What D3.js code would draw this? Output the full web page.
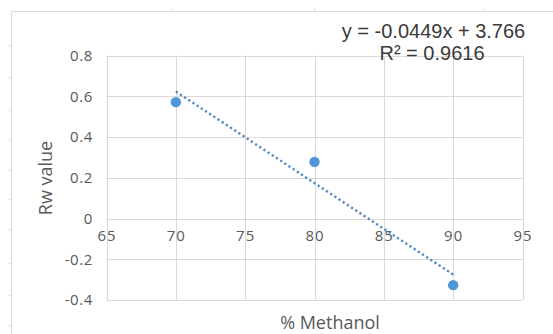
<!DOCTYPE html>
<html>
<head>
<meta charset="utf-8">
<script src="https://cdn.jsdelivr.net/npm/d3@7/dist/d3.min.js"></script>
<style>
  html, body { margin: 0; padding: 0; background: #ffffff; }
  svg { display: block; }
</style>
</head>
<body>
<svg id="chart" width="553" height="334"></svg>
<script>
// Measured Rw values at each methanol percentage
const methanol = [70, 80, 90];
const rwValues = [0.571, 0.278, -0.327];

// Axis tick values
const xTicks = [65, 70, 75, 80, 85, 90, 95];
const yTicks = [-0.4, -0.2, 0, 0.2, 0.4, 0.6, 0.8];

const svg = d3.select("#chart");
const W = 553, H = 334;

const x = d3.scaleLinear().domain([65, 95]).range([106.5, 522.5]);
const y = d3.scaleLinear().domain([-0.4, 0.8]).range([300, 55.5]);

const gridColor = "#d9d9d9";
const labelColor = "#595959";

// Chart frame (top and left edge of the chart object)
svg.append("path")
  .attr("d", `M11.5,${H} V11.5 H${W}`)
  .attr("fill", "none").attr("stroke", "#dcdcdc").attr("stroke-width", 1);

// Faint cell boundary marks along the frame
[171, 314, 484].forEach(px => {
  svg.append("line").attr("x1", px + 0.5).attr("x2", px + 0.5).attr("y1", 8).attr("y2", 11)
    .attr("stroke", "#e2e2e2");
});
[45, 77, 110, 139, 170, 199, 229, 263, 295, 325].forEach(py => {
  svg.append("line").attr("x1", 8).attr("x2", 11).attr("y1", py + 0.5).attr("y2", py + 0.5)
    .attr("stroke", "#e6e6e6");
});

// Gridlines
const grid = svg.append("g");
grid.selectAll("line.h").data(yTicks).join("line")
  .attr("x1", x(65)).attr("x2", x(95))
  .attr("y1", d => Math.round(y(d)) + 0.5).attr("y2", d => Math.round(y(d)) + 0.5)
  .attr("stroke", gridColor).attr("stroke-width", 1);
grid.selectAll("line.v").data(xTicks).join("line")
  .attr("y1", y(0.8)).attr("y2", y(-0.4))
  .attr("x1", d => Math.round(x(d)) + 0.5).attr("x2", d => Math.round(x(d)) + 0.5)
  .attr("stroke", gridColor).attr("stroke-width", 1);

// Y axis labels (plain hyphen for negatives)
const fmtY = d => d === 0 ? "0" : d3.format(".1f")(d).replace("\u2212", "-");
const yAxis = d3.axisLeft(y).tickValues(yTicks).tickSize(0).tickPadding(0).tickFormat(fmtY);
const gy = svg.append("g").attr("transform", "translate(93,0)").call(yAxis);
gy.select(".domain").remove();
gy.selectAll("text")
  .attr("fill", labelColor)
  .style("font-family", "'Open Sans', sans-serif")
  .style("font-size", "15px")
  .style("letter-spacing", "0.6px");

// X axis labels, sitting under the zero line
const xAxis = d3.axisBottom(x).tickValues(xTicks).tickSize(0).tickPadding(0)
  .tickFormat(d3.format("d"));
const gx = svg.append("g").attr("transform", `translate(0,${y(0) + 12})`).call(xAxis);
gx.select(".domain").remove();
gx.selectAll("text")
  .attr("fill", labelColor)
  .style("font-family", "'Open Sans', sans-serif")
  .style("font-size", "15px")
  .style("letter-spacing", "1px");

// Linear trendline from least squares fit
const mx = d3.mean(methanol), my = d3.mean(rwValues);
const sxy = d3.sum(methanol.map((v, i) => (v - mx) * (rwValues[i] - my)));
const sxx = d3.sum(methanol.map(v => (v - mx) * (v - mx)));
const slope = sxy / sxx;
const intercept = my - slope * mx;
const xEnds = d3.extent(methanol);
svg.append("line")
  .attr("x1", x(xEnds[0])).attr("y1", y(slope * xEnds[0] + intercept))
  .attr("x2", x(xEnds[1])).attr("y2", y(slope * xEnds[1] + intercept))
  .attr("stroke", "#5287c0").attr("stroke-width", 2.4)
  .attr("stroke-dasharray", "2.2,2.8");

// Data points
svg.selectAll("circle.pt").data(methanol).join("circle")
  .attr("cx", d => x(d))
  .attr("cy", (d, i) => y(rwValues[i]))
  .attr("r", 5.2)
  .attr("fill", "#4e95da");

// Trendline equation and R-squared
const eq = svg.append("g")
  .style("font-family", "'Liberation Sans', Arial, sans-serif")
  .style("font-size", "20px")
  .attr("fill", "#3a3a3a")
  .attr("text-anchor", "middle");
eq.append("text").attr("x", 433.5).attr("y", 38).text("y = -0.0449x + 3.766");
eq.append("text").attr("x", 432).attr("y", 60).text("R\u00B2 = 0.9616");

// Axis titles
svg.append("text")
  .attr("x", 330).attr("y", 323).attr("dy", "0.35em")
  .attr("text-anchor", "middle").attr("fill", labelColor)
  .style("font-family", "'Open Sans', sans-serif").style("font-size", "18px")
  .text("% Methanol");
svg.append("text")
  .attr("transform", `translate(46,178) rotate(-90)`)
  .attr("dy", "0.35em")
  .attr("text-anchor", "middle").attr("fill", labelColor)
  .style("font-family", "'Open Sans', sans-serif").style("font-size", "18px")
  .text("Rw value");
</script>
</body>
</html>
